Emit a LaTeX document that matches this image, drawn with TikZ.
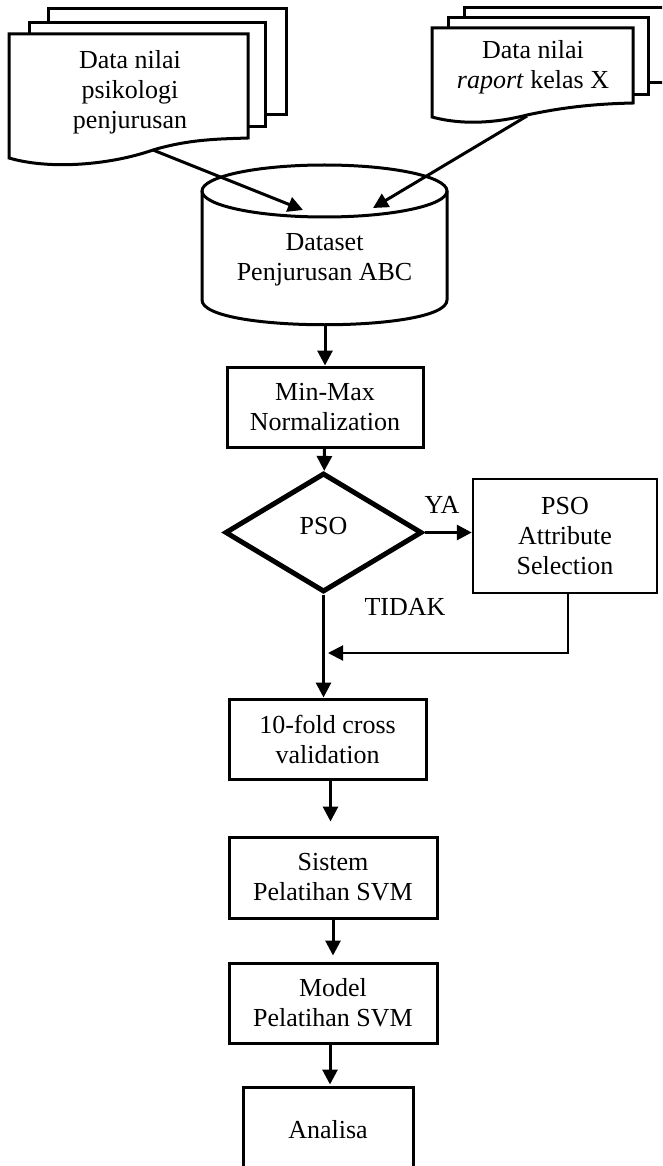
\documentclass[tikz,border=0pt]{standalone}
\usepackage{fontspec}
\setmainfont{Liberation Serif}
\usetikzlibrary{shapes.geometric, arrows.meta}

\begin{document}
\begin{tikzpicture}[x = 1pt, y = -1pt, line width = 3pt,
                        every node/.style = {font = \fontsize{26}{30}\selectfont},
                        box/.style = {rectangle, draw, fill = white, align = center, inner sep = 0pt},
                        decision/.style = {diamond, draw, line width = 5pt, inner sep = 0pt, text depth = 14pt},
                        arr/.style = {-{Triangle[length = 15pt, width = 15pt]}}]
      \useasboundingbox (0, 0) rectangle (662, 1166);
      \clip (0, 0) rectangle (662, 1166);

      % input documents
      \draw [fill = white] (48, 9) rectangle (286, 115);
      \draw [fill = white] (29, 23) rectangle (265, 127);
      \draw [fill = white] (9, 34) -- (248, 34) -- (248, 138)
            .. controls (220, 139) and (190, 139) .. (153, 150)
            .. controls (110, 165) and (50, 170) .. (9, 158) -- cycle;
      \node [align = center] (psi) at (130, 92) {Data nilai\\psikologi\\penjurusan};

      \draw [fill = white] (464, 8) rectangle (680, 83);
      \draw [fill = white] (448, 18) rectangle (648, 95);
      \draw [fill = white] (432, 28) -- (633, 28) -- (633, 103)
            .. controls (590, 104) and (560, 108) .. (527, 115)
            .. controls (500, 122) and (465, 126) .. (432, 117) -- cycle;
      \node [align = center] (rap) at (533, 67) {Data nilai\\\textit{raport} kelas X};

      \coordinate (psiout) at (153, 150);
      \coordinate (rapout) at (527, 116);

      % dataset
      \draw [fill = white] (202, 191) -- (202, 300)
            .. controls (202, 333) and (447, 333) .. (447, 300) -- (447, 191);
      \draw (324.5, 191) ellipse [x radius = 122.5, y radius = 26];
      \node [align = center] (db) at (324.5, 260) {Dataset\\Penjurusan ABC};
      \coordinate (dbin1) at (303, 210);
      \coordinate (dbin2) at (373, 208);
      \coordinate (dbout) at (325, 325);

      % process
      \node [box, minimum width = 196pt, minimum height = 80pt] (norm) at (325, 407) {Min-Max\\Normalization};
      \node [decision, minimum width = 197pt, minimum height = 119pt] (pso) at (323.5, 532.5) {PSO};
      \node [box, line width = 2.5pt, minimum width = 184pt, minimum height = 114pt] (sel) at (565, 536) {PSO\\Attribute\\Selection};
      \node [box, minimum width = 197pt, minimum height = 80pt] (cv) at (327.5, 739) {10-fold cross\\validation};
      \node [box, minimum width = 208pt, minimum height = 81pt] (train) at (333, 877.5) {Sistem\\Pelatihan SVM};
      \node [box, minimum width = 208pt, minimum height = 80pt] (model) at (333, 1003) {Model\\Pelatihan SVM};
      \node [box, minimum width = 170pt, minimum height = 86pt] (ana) at (328, 1130) {Analisa};
      \node (ya) at (442, 505) {YA};
      \node (tidak) at (405, 607) {TIDAK};
      \coordinate (join) at (328, 653);

      \draw [arr] (psiout) -- (dbin1);
      \draw [arr] (rapout) -- (dbin2);
      \draw [arr] (dbout) -- (norm);
      \draw [arr] (norm) -- (pso);
      \draw [arr] (pso.east) -- (pso.east -| sel.west);
      \draw [arr] (pso.south) -- (pso.south |- cv.north);
      \draw [arr, line width = 2pt] (sel.south) ++(3, 0) |- (join);
      \draw [arr, shorten > = 17pt] (cv.south) ++(3, 0) -- ++(0, 58);
      \draw [arr, shorten > = 6pt] (train) -- (model);
      \draw [arr, shorten > = 4pt] (model.south) ++(-3, 0) -- ++(0, 44);
      \end{tikzpicture}
\end{document}
